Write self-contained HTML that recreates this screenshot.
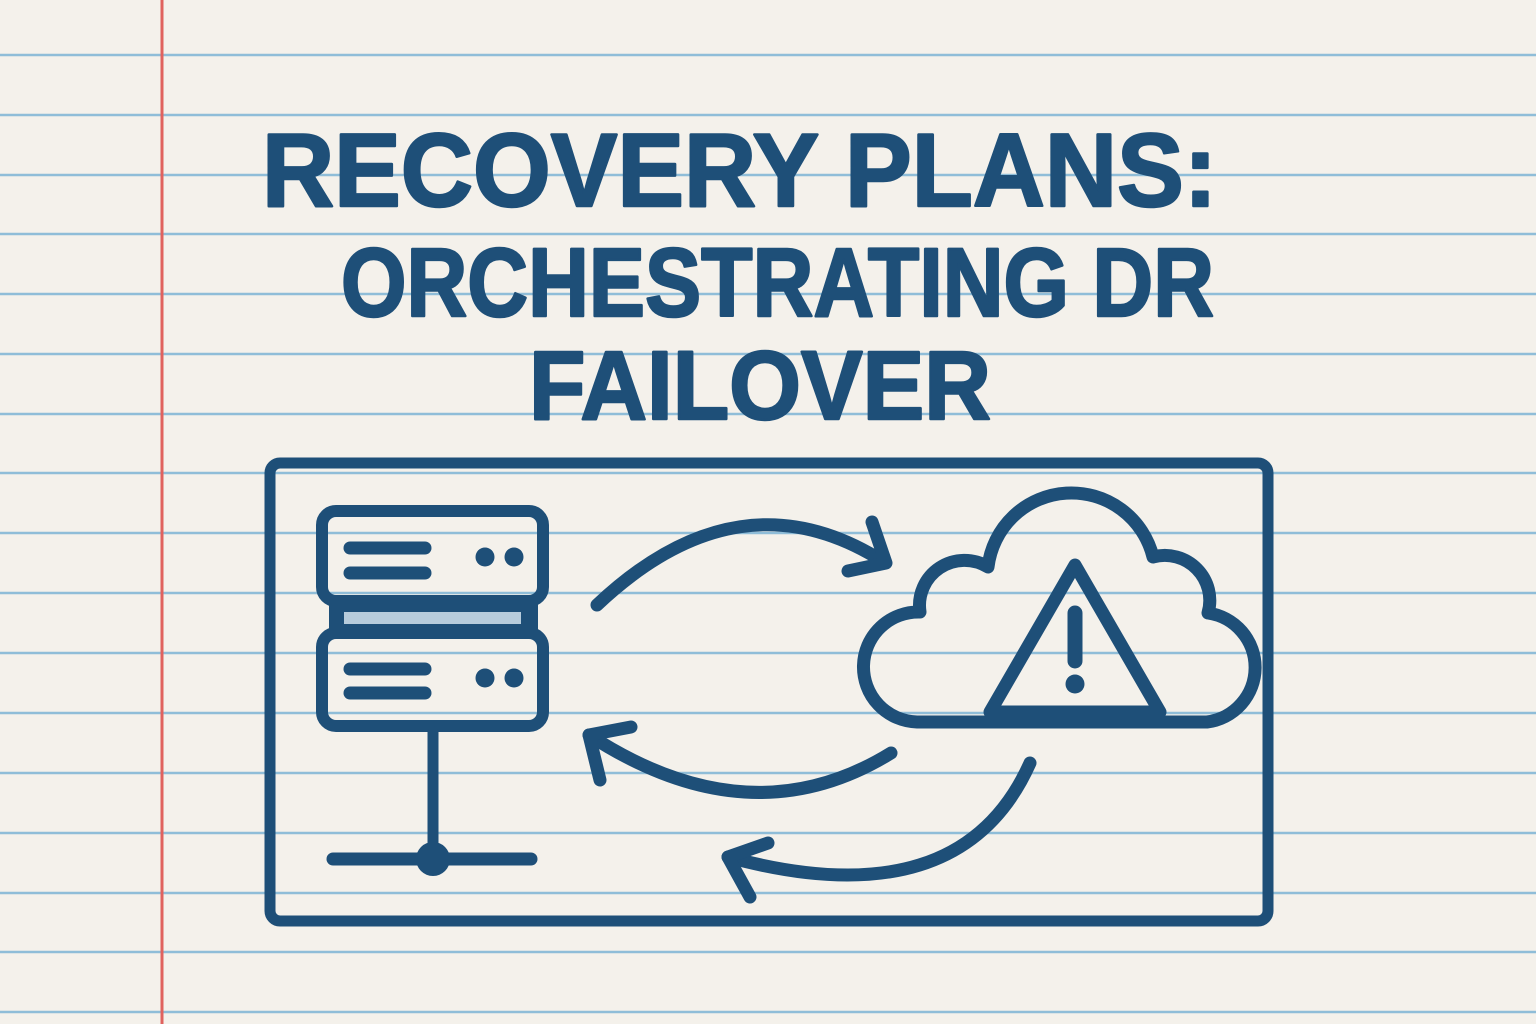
<!DOCTYPE html>
<html><head><meta charset="utf-8"><style>
html,body{margin:0;padding:0;background:#f4f1eb;}
svg{display:block;}
</style></head><body>
<svg width="1536" height="1024" viewBox="0 0 1536 1024" xmlns="http://www.w3.org/2000/svg">
<rect width="1536" height="1024" fill="#f4f1eb"/>
<g stroke="#8fbdd8" stroke-width="2.5">
<line x1="0" y1="55" x2="1536" y2="55"/>
<line x1="0" y1="115" x2="1536" y2="115"/>
<line x1="0" y1="175" x2="1536" y2="175"/>
<line x1="0" y1="234" x2="1536" y2="234"/>
<line x1="0" y1="294" x2="1536" y2="294"/>
<line x1="0" y1="354" x2="1536" y2="354"/>
<line x1="0" y1="414" x2="1536" y2="414"/>
<line x1="0" y1="473" x2="1536" y2="473"/>
<line x1="0" y1="533" x2="1536" y2="533"/>
<line x1="0" y1="593" x2="1536" y2="593"/>
<line x1="0" y1="653" x2="1536" y2="653"/>
<line x1="0" y1="713" x2="1536" y2="713"/>
<line x1="0" y1="773" x2="1536" y2="773"/>
<line x1="0" y1="833" x2="1536" y2="833"/>
<line x1="0" y1="893" x2="1536" y2="893"/>
<line x1="0" y1="952" x2="1536" y2="952"/>
<line x1="0" y1="1012" x2="1536" y2="1012"/>
</g>
<line x1="162" y1="0" x2="162" y2="1024" stroke="#e0625e" stroke-width="3"/>

<g fill="#1e4f78" stroke="#1e4f78" stroke-width="2.5" stroke-linejoin="round" font-family="'Liberation Sans', 'DejaVu Sans', sans-serif" font-weight="bold">
<text x="262" y="206" font-size="104" textLength="955" lengthAdjust="spacingAndGlyphs">RECOVERY PLANS:</text>
<text x="341" y="316" font-size="97" textLength="873" lengthAdjust="spacingAndGlyphs">ORCHESTRATING DR</text>
<text x="529" y="419" font-size="97" textLength="462" lengthAdjust="spacingAndGlyphs">FAILOVER</text>
</g>

<g fill="none" stroke="#1e4f78" stroke-linecap="round" stroke-linejoin="round">
<rect x="270" y="463" width="998" height="458" rx="10" stroke-width="11"/>
<!-- server -->
<rect x="322" y="511" width="221" height="90" rx="14" stroke-width="12"/>
<rect x="322" y="633" width="221" height="93" rx="14" stroke-width="12"/>
<rect x="329" y="600" width="209" height="33" fill="#1e4f78" stroke="none"/>
<rect x="344" y="612" width="177" height="12" fill="#b7ccdc" stroke="none"/>
<g stroke-width="13">
<line x1="350" y1="548" x2="425" y2="548"/>
<line x1="350" y1="573" x2="425" y2="573"/>
<line x1="350" y1="669" x2="425" y2="669"/>
<line x1="350" y1="693" x2="425" y2="693"/>
</g>
<g fill="#1e4f78" stroke="none">
<circle cx="485" cy="557" r="9.5"/><circle cx="514" cy="557" r="9.5"/>
<circle cx="485" cy="678" r="9.5"/><circle cx="514" cy="678" r="9.5"/>
<circle cx="433" cy="859" r="17"/>
</g>
<line x1="433" y1="732" x2="433" y2="855" stroke-width="11"/>
<line x1="333" y1="859" x2="531" y2="859" stroke-width="13"/>
<!-- arrows -->
<g stroke-width="13">
<path d="M597 605 Q 740 470 884 562"/>
<path d="M872 522 L886 563 L848 571"/>
<path d="M891 753 Q 750 840 589 735"/>
<path d="M631 727 L589 735 L600 780"/>
<path d="M1030 763 Q 960 920 728 857"/>
<path d="M768 843 L728 857 L750 897"/>
</g>
<!-- cloud -->
<path d="M917 722 A 55 55 0 0 1 920 612 A 45 45 0 0 1 988 567 A 84 84 0 0 1 1153 557 A 45 45 0 0 1 1208 613 A 55 55 0 0 1 1207 722 Z" stroke-width="13"/>
<path d="M1075 565 L1160 712 L990 712 Z" stroke-width="13"/>
<rect x="990" y="706" width="170" height="22" fill="#1e4f78" stroke="none"/>
<line x1="1075" y1="613" x2="1075" y2="661" stroke-width="15"/>
<circle cx="1075" cy="684" r="9.5" fill="#1e4f78" stroke="none"/>
</g>
</svg>
</body></html>
